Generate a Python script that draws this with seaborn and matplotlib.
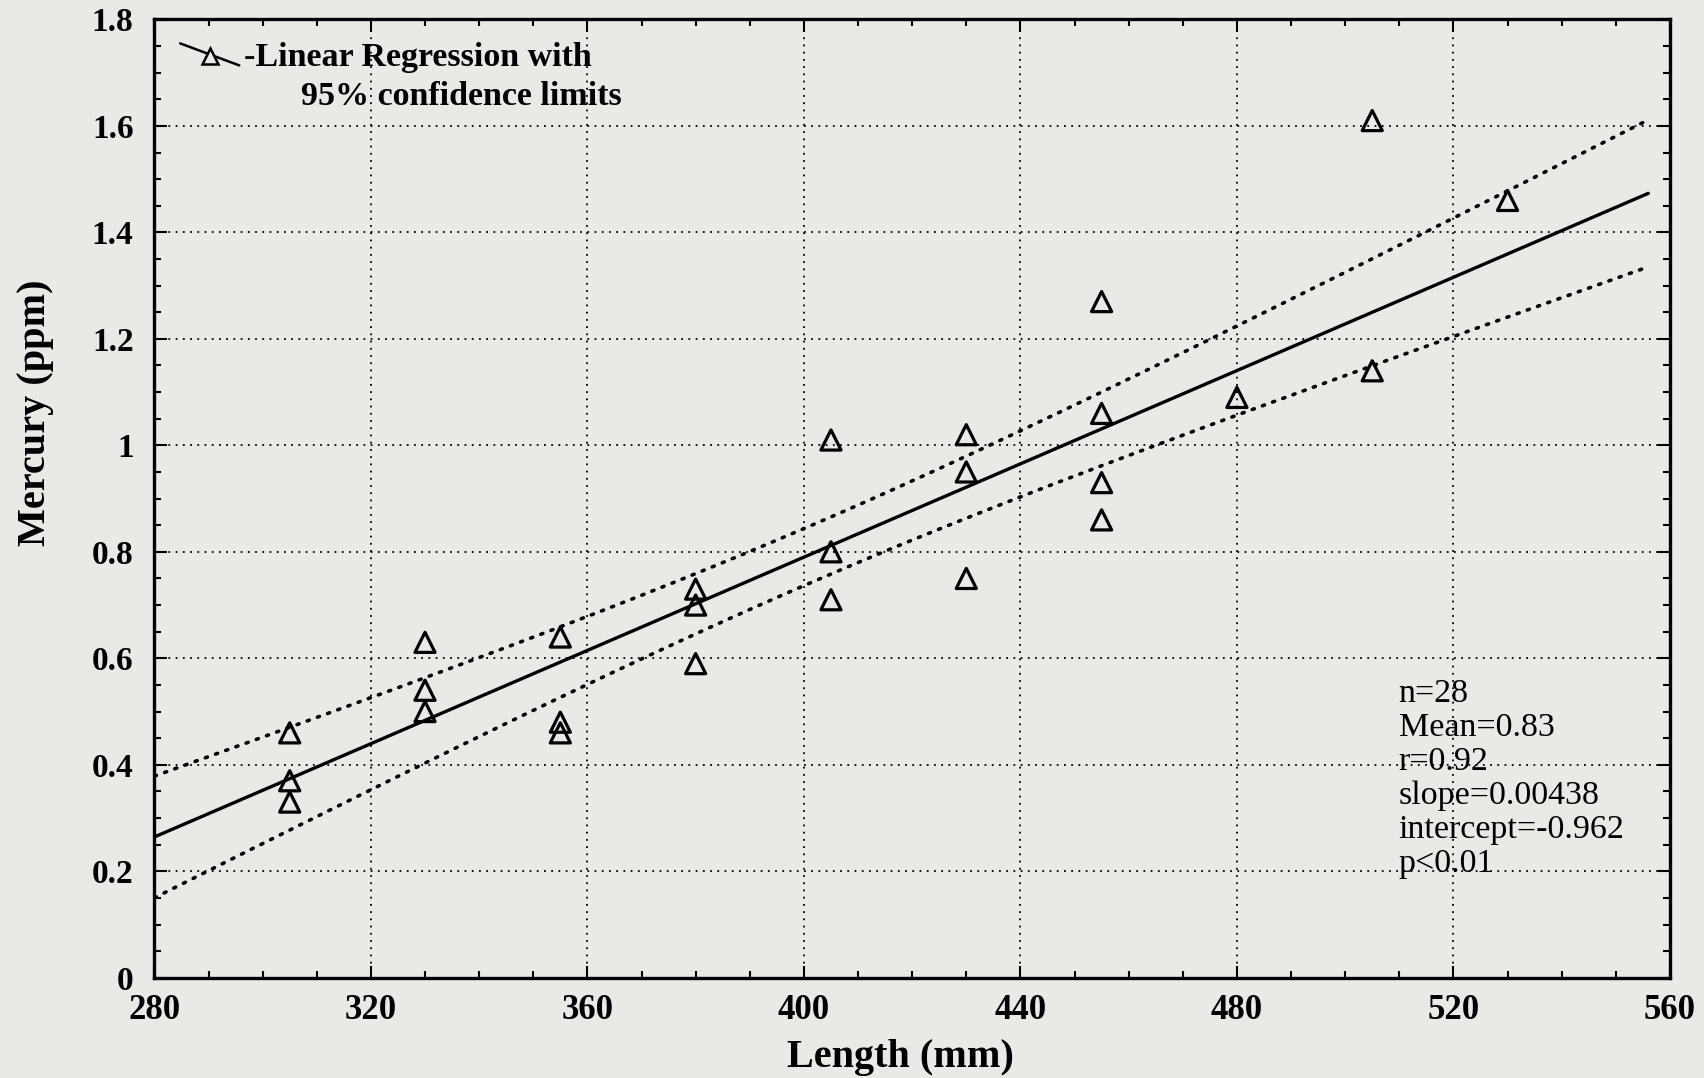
import numpy as np
import matplotlib
matplotlib.use("Agg")
import matplotlib.pyplot as plt
from matplotlib.lines import Line2D
from matplotlib.ticker import MultipleLocator, FormatStrFormatter
import seaborn as sns

# fish length (mm) and mercury (ppm)
length_mm = [305, 305, 305,
             330, 330, 330,
             355, 355, 355,
             380, 380, 380,
             405, 405, 405,
             430, 430, 430,
             455, 455, 455, 455,
             480,
             505, 505,
             530]
mercury_ppm = [0.46, 0.37, 0.33,
               0.63, 0.54, 0.50,
               0.64, 0.48, 0.46,
               0.73, 0.70, 0.59,
               1.01, 0.80, 0.71,
               1.02, 0.95, 0.75,
               1.27, 1.06, 0.93, 0.86,
               1.09,
               1.61, 1.14,
               1.46]

# regression reported on the chart
SLOPE = 0.00438
INTERCEPT = -0.962
T95 = 2.06
stats_lines = ["n=28", "Mean=0.83", "r=0.92", "slope=0.00438",
               "intercept=-0.962", "p<0.01"]

sns.set_theme(style="ticks")
plt.rcParams['font.family'] = ['Liberation Serif', 'DejaVu Serif']
plt.rcParams['text.color'] = 'black'
plt.rcParams['axes.labelcolor'] = 'black'
plt.rcParams['xtick.color'] = 'black'
plt.rcParams['ytick.color'] = 'black'
bg = '#e9e9e5'

x = np.array(length_mm, dtype=float)
y = np.array(mercury_ppm, dtype=float)
n = len(x)
resid = y - (INTERCEPT + SLOPE * x)
s = np.sqrt((resid ** 2).sum() / (n - 2))
sxx = ((x - x.mean()) ** 2).sum()

xs = np.linspace(280, 556, 200)
fit = INTERCEPT + SLOPE * xs
hw = T95 * s * np.sqrt(1.0 / n + (xs - x.mean()) ** 2 / sxx)

fig, ax = plt.subplots(figsize=(17.04, 10.78), dpi=100, facecolor=bg)
ax.set_facecolor(bg)
fig.subplots_adjust(left=0.0906, right=0.98, bottom=0.093, top=0.982)

ax.plot(xs, fit, color='black', lw=2.4, solid_capstyle='round', zorder=3)
for band in (fit + hw, fit - hw):
    ax.plot(xs, band, color='black', lw=2.6, linestyle=(0, (0.6, 2.4)),
            dash_capstyle='round', zorder=3)

sns.scatterplot(x=x, y=y, marker='^', s=210, facecolor='none',
                edgecolor='black', linewidth=2.3, ax=ax, zorder=4)

ax.set_xlim(280, 560)
ax.set_ylim(0, 1.8)
ax.xaxis.set_major_locator(MultipleLocator(40))
ax.xaxis.set_minor_locator(MultipleLocator(10))
ax.yaxis.set_major_locator(MultipleLocator(0.2))
ax.yaxis.set_minor_locator(MultipleLocator(0.05))
ax.yaxis.set_major_formatter(FormatStrFormatter('%g'))
ax.grid(True, which='major', color='black', linestyle=(0, (1, 3)), lw=1.3)

ax.tick_params(which='both', direction='in', top=True, right=True,
               color='black', width=1.5)
ax.tick_params(which='major', length=9)
ax.tick_params(axis='x', which='major', pad=12, labelsize=25)
ax.tick_params(axis='y', which='major', pad=15, labelsize=24)
ax.tick_params(which='minor', length=5)
for lab in ax.get_xticklabels() + ax.get_yticklabels():
    lab.set_fontweight('bold')
for sp in ax.spines.values():
    sp.set_linewidth(2.4)
    sp.set_color('black')

ax.set_xlabel('Length (mm)', fontsize=29, fontweight='bold')
ax.set_ylabel('Mercury (ppm)', fontsize=29, fontweight='bold')
ax.xaxis.set_label_coords(0.492, -0.064)
ax.yaxis.set_label_coords(-0.066, 0.59)

# legend key: diagonal line through a triangle
ax.add_line(Line2D([0.017, 0.056], [0.975, 0.952], transform=ax.transAxes,
                   color='black', lw=1.8))
ax.add_line(Line2D([0.0365], [0.9615], transform=ax.transAxes, marker='^',
                   markersize=11, markerfacecolor=bg, markeredgecolor='black',
                   markeredgewidth=1.8))
ax.text(0.059, 0.960, '-Linear Regression with', transform=ax.transAxes,
        fontsize=24.5, fontweight='bold', va='center', ha='left')
ax.text(0.097, 0.920, '95% confidence limits', transform=ax.transAxes,
        fontsize=24.5, fontweight='bold', va='center', ha='left')

ax.text(0.821, 0.312, '\n'.join(stats_lines), transform=ax.transAxes,
        fontsize=24.5, va='top', ha='left', linespacing=1.15)

fig.savefig('out.png', dpi=100, facecolor=bg)
